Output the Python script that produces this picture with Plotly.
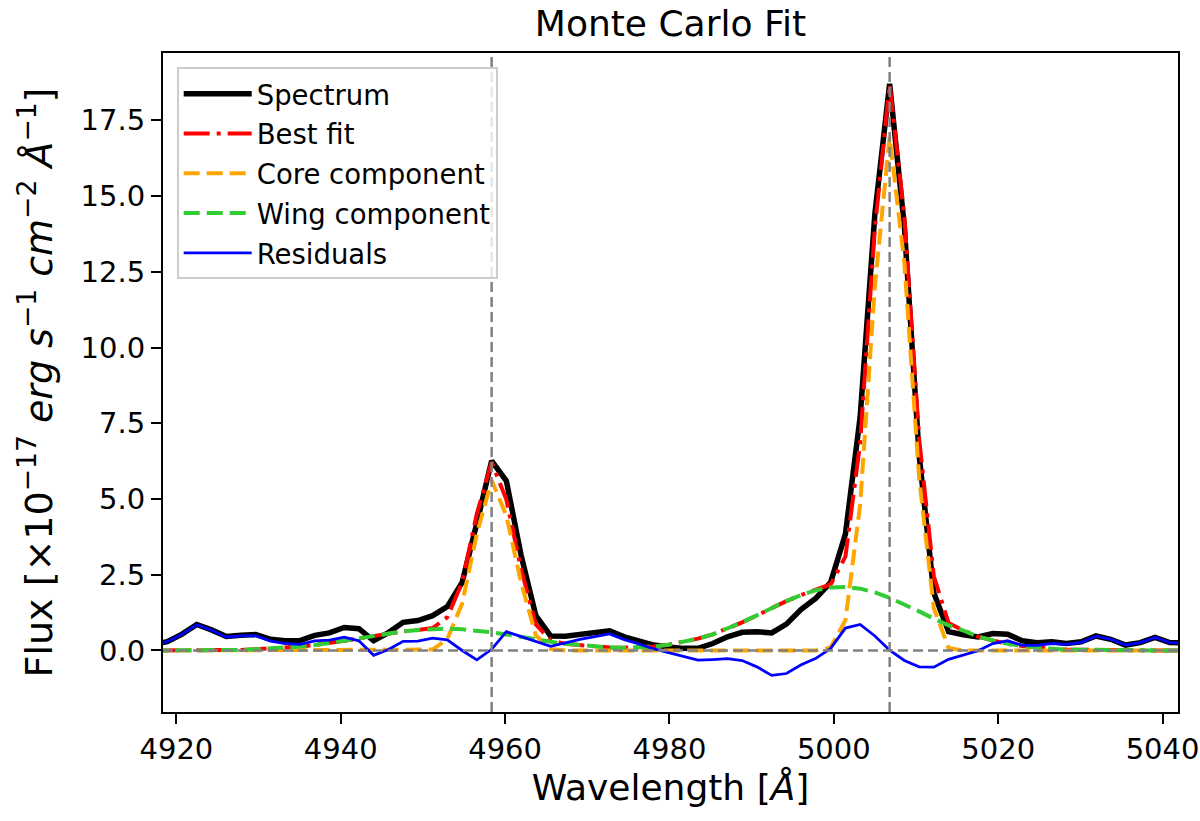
import plotly.graph_objects as go

# wavelength grid of the spectrum [Angstrom]
wavelength = [
    4917.10, 4918.89, 4920.69, 4922.48, 4924.27, 4926.07, 4927.86, 4929.66, 4931.45, 4933.24,
    4935.04, 4936.83, 4938.62, 4940.42, 4942.21, 4944.00, 4945.80, 4947.59, 4949.39, 4951.18,
    4952.97, 4954.77, 4956.56, 4958.36, 4960.15, 4961.94, 4963.74, 4965.53, 4967.33, 4969.12,
    4970.91, 4972.71, 4974.50, 4976.29, 4978.09, 4979.88, 4981.68, 4983.47, 4985.26, 4987.06,
    4988.85, 4990.64, 4992.44, 4994.23, 4996.03, 4997.82, 4999.61, 5001.41, 5003.20, 5004.99,
    5006.79, 5008.58, 5010.38, 5012.17, 5013.96, 5015.76, 5017.55, 5019.34, 5021.14, 5022.93,
    5024.73, 5026.52, 5028.31, 5030.11, 5031.90, 5033.69, 5035.49, 5037.28, 5039.08, 5040.87,
    5042.66,
]

spectrum = [
    0.20, 0.29, 0.54, 0.86, 0.68, 0.46, 0.50, 0.53, 0.37, 0.32,
    0.33, 0.50, 0.58, 0.76, 0.72, 0.32, 0.59, 0.93, 0.99, 1.15,
    1.45, 2.25, 4.20, 6.26, 5.60, 3.15, 1.15, 0.48, 0.47, 0.54,
    0.59, 0.65, 0.45, 0.32, 0.18, 0.12, 0.07, 0.07, 0.23, 0.45,
    0.60, 0.62, 0.58, 0.87, 1.36, 1.73, 2.25, 3.84, 7.70, 14.40,
    18.70, 14.00, 6.45, 1.90, 0.62, 0.52, 0.45, 0.56, 0.54, 0.32,
    0.26, 0.29, 0.23, 0.29, 0.48, 0.37, 0.18, 0.26, 0.43, 0.26,
    0.25,
]

best_fit = [
    0.00, 0.00, 0.00, 0.01, 0.01, 0.02, 0.02, 0.04, 0.06, 0.09,
    0.13, 0.18, 0.24, 0.32, 0.40, 0.48, 0.56, 0.63, 0.68, 0.74,
    1.10, 2.25, 4.51, 6.22, 4.98, 2.69, 0.86, 0.34, 0.22, 0.17,
    0.13, 0.10, 0.09, 0.10, 0.13, 0.19, 0.28, 0.39, 0.53, 0.72,
    0.93, 1.16, 1.40, 1.63, 1.83, 1.99, 2.18, 3.10, 6.84, 13.92,
    18.69, 14.33, 6.99, 2.45, 0.91, 0.66, 0.46, 0.33, 0.22, 0.15,
    0.09, 0.06, 0.03, 0.02, 0.01, 0.00, 0.00, 0.00, 0.00, 0.00,
    0.00,
]

core = [
    0.00, 0.00, 0.00, 0.00, 0.00, 0.00, 0.00, 0.00, 0.00, 0.00,
    0.00, 0.00, 0.00, 0.00, 0.00, 0.00, 0.00, 0.00, 0.00, 0.03,
    0.38, 1.55, 3.85, 5.62, 4.45, 2.25, 0.50, 0.05, 0.00, 0.00,
    0.00, 0.00, 0.00, 0.00, 0.00, 0.00, 0.00, 0.00, 0.00, 0.00,
    0.00, 0.00, 0.00, 0.00, 0.00, 0.00, 0.10, 1.00, 4.80, 12.00,
    16.95, 12.80, 5.70, 1.40, 0.08, 0.00, 0.00, 0.00, 0.00, 0.00,
    0.00, 0.00, 0.00, 0.00, 0.00, 0.00, 0.00, 0.00, 0.00, 0.00,
    0.00,
]

wing = [
    0.00, 0.00, 0.00, 0.01, 0.01, 0.02, 0.02, 0.04, 0.06, 0.09,
    0.13, 0.18, 0.24, 0.32, 0.40, 0.48, 0.56, 0.63, 0.68, 0.71,
    0.72, 0.70, 0.66, 0.60, 0.53, 0.44, 0.36, 0.29, 0.22, 0.17,
    0.13, 0.10, 0.09, 0.10, 0.13, 0.19, 0.28, 0.39, 0.53, 0.72,
    0.93, 1.16, 1.40, 1.63, 1.83, 1.99, 2.08, 2.10, 2.04, 1.92,
    1.74, 1.53, 1.29, 1.05, 0.83, 0.66, 0.46, 0.33, 0.22, 0.15,
    0.09, 0.06, 0.03, 0.02, 0.01, 0.00, 0.00, 0.00, 0.00, 0.00,
    0.00,
]

residuals = [
    0.20, 0.29, 0.54, 0.85, 0.67, 0.44, 0.48, 0.49, 0.31, 0.23,
    0.20, 0.32, 0.34, 0.44, 0.32, -0.16, 0.03, 0.30, 0.31, 0.41,
    0.35, 0.00, -0.31, 0.04, 0.62, 0.46, 0.29, 0.14, 0.25, 0.37,
    0.46, 0.55, 0.36, 0.22, 0.05, -0.07, -0.21, -0.32, -0.30, -0.27,
    -0.33, -0.54, -0.82, -0.76, -0.47, -0.26, 0.07, 0.74, 0.86, 0.48,
    0.01, -0.33, -0.54, -0.55, -0.29, -0.14, -0.01, 0.23, 0.32, 0.17,
    0.17, 0.23, 0.20, 0.27, 0.47, 0.37, 0.18, 0.26, 0.43, 0.26,
    0.25,
]

# [OIII] 4959 / 5007 line centres
line_centres = [4958.36, 5006.79]

x_range = [4918.37, 5041.88]
y_range = [-2.03, 19.72]
x_ticks = [4920, 4940, 4960, 4980, 5000, 5020, 5040]
y_ticks = [0.0, 2.5, 5.0, 7.5, 10.0, 12.5, 15.0, 17.5]

FONT = "DejaVu Sans"

fig = go.Figure()

fig.add_trace(go.Scatter(x=wavelength, y=spectrum, mode="lines", name="Spectrum",
                         line=dict(color="black", width=5.5), legendgroup="a"))
fig.add_trace(go.Scatter(x=wavelength, y=best_fit, mode="lines", name="Best fit",
                         line=dict(color="red", width=4, dash="26px,7px,4px,7px"), legendgroup="b"))
fig.add_trace(go.Scatter(x=wavelength, y=core, mode="lines", name="Core component",
                         line=dict(color="orange", width=4, dash="16px,7px"), legendgroup="c"))
fig.add_trace(go.Scatter(x=wavelength, y=wing, mode="lines", name="Wing component",
                         line=dict(color="limegreen", width=4, dash="16px,7px"), legendgroup="d"))
fig.add_trace(go.Scatter(x=wavelength, y=residuals, mode="lines", name="Residuals",
                         line=dict(color="blue", width=2.8), legendgroup="e"))

# zero level and line centres
fig.add_hline(y=0, line=dict(color="gray", width=2.5, dash="10px,5px"), layer="above")
for c in line_centres:
    fig.add_vline(x=c, line=dict(color="gray", width=2.5, dash="10px,5px"), layer="above")

axis_common = dict(
    showline=True, mirror=True, linecolor="black", linewidth=2,
    ticks="outside", ticklen=10, tickwidth=2, tickcolor="black",
    showgrid=False, zeroline=False, automargin=False,
    ticklabeloverflow="allow",
    tickfont=dict(family=FONT, size=29, color="black"),
)

fig.update_xaxes(range=x_range, tickvals=x_ticks, **axis_common,
                 title=dict(text="Wavelength [<i>Å</i>]", standoff=9,
                            font=dict(family=FONT, size=36, color="black")))
fig.update_yaxes(range=y_range, tickvals=y_ticks, tickformat=".1f", **axis_common,
                 title=dict(text="Flux [×10<sup>−17</sup> <i>erg s</i><sup>−1</sup> "
                                 "<i>cm</i><sup>−2</sup> <i>Å</i><sup>−1</sup>]",
                            standoff=16,
                            font=dict(family=FONT, size=38, color="black")))

fig.update_layout(
    width=1200, height=821,
    margin=dict(l=163, r=22, t=53, b=109),
    plot_bgcolor="white", paper_bgcolor="white",
    font=dict(family=FONT, color="black"),
    title=dict(text="Monte Carlo Fit", x=0.5, xref="paper", xanchor="center",
               y=1 - 23 / 821, yref="container", yanchor="middle",
               font=dict(family=FONT, size=36, color="black")),
    legend=dict(x=0.0135, y=0.978, xanchor="left", yanchor="top",
                bgcolor="rgba(255,255,255,0.8)", bordercolor="#cccccc", borderwidth=2,
                font=dict(family=FONT, size=27.5, color="black"),
                itemwidth=68, tracegroupgap=1, traceorder="grouped"),
    showlegend=True,
)

# drop the browser's default page margin so the figure sits at the window origin
fig.write_html("out.html", config={"displayModeBar": False},
               post_script="document.body.style.margin = '0px';")
